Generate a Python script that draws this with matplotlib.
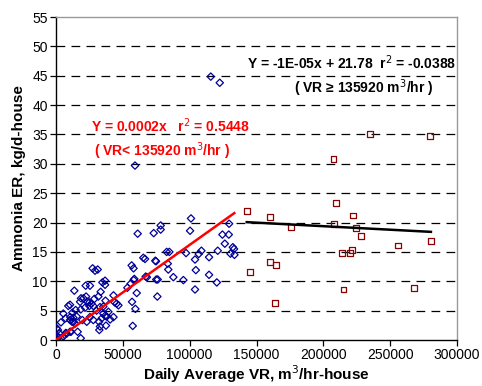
import matplotlib
matplotlib.use("Agg")
import matplotlib.pyplot as plt
import numpy as np

plt.rcParams['font.family'] = ['Liberation Sans', 'DejaVu Sans']

# Low ventilation-rate data (blue diamonds)
low_x = [0, 1000, 1500, 500, 1700, 500, 3700, 3700, 5500, 8000, 10500, 18500,
         5500, 7200, 10500, 12200, 14700, 13000, 15500, 19700, 23000, 25400, 27900,
         9200, 10500, 13700, 18000, 18700, 20500, 22500, 22200, 25400, 25000, 28700,
         31700, 33400, 34700, 36700, 18500, 21700, 24950, 27900, 30400, 32900, 35400,
         35400, 36700, 34200, 32200, 39200, 37900, 32400, 32900, 45400, 46700, 43900,
         27400, 31200, 29200, 12000, 14200, 10700, 13000, 16200, 11200, 7300, 2500,
         37000, 37400, 36700, 40500, 43000, 43000, 26500, 23500,
         56600, 58000, 65300, 66600, 74800, 68000, 75000, 58100, 60400, 56900, 59400,
         57400, 53400, 55900, 58600, 61100, 73100, 78300, 78300, 101000, 100300,
         129500, 124500, 129250, 126300, 121000, 132300, 133200, 130500, 133500,
         108800, 106800, 104000, 114500, 97300, 82800, 84800, 74300, 83600, 84000,
         104600, 114500, 120300, 95300, 87800, 76100, 67100, 104000, 75800,
         115800, 122500, 59100]
low_y = [0.3, 0.0, 1.7, 2.0, 0.5, 0.6, 3.0, 0.3, 0.6, 1.1, 1.4, 0.3,
         4.5, 3.7, 3.4, 4.65, 5.1, 3.1, 4.0, 3.4, 3.1, 3.9, 3.4,
         5.8, 6.0, 8.4, 6.5, 7.1, 7.1, 7.4, 9.25, 9.25, 6.4, 7.0,
         7.4, 8.2, 9.8, 9.4, 5.2, 5.5, 5.8, 5.8, 5.0, 5.6, 5.7,
         4.5, 4.1, 3.7, 3.1, 4.8, 4.0, 1.7, 2.3, 6.2, 5.9, 6.4,
         12.2, 12.0, 11.8, 3.1, 2.8, 3.9, 3.8, 1.4, 1.4, 1.2, 1.1,
         6.7, 2.45, 10.1, 3.5, 3.9, 7.6, 6.2, 6.5,
         12.7, 12.2, 14.0, 13.8, 13.4, 10.7, 10.3, 10.2, 8.0, 6.5, 5.3,
         2.4, 8.9, 9.6, 10.4, 18.1, 18.2, 19.5, 18.8, 20.7, 18.6,
         19.8, 17.95, 17.95, 16.4, 15.2, 15.8, 15.5, 14.7, 14.5,
         15.2, 14.65, 13.7, 14.1, 14.8, 15.0, 15.0, 13.5, 13.0, 12.0,
         11.9, 11.1, 9.8, 10.2, 10.7, 10.3, 10.8, 8.6, 7.4,
         44.85, 43.8, 29.7]

# High ventilation-rate data (red squares)
high_x = [142700, 145000, 160400, 160400, 164700, 163900, 175700, 207600, 209800,
          207900, 214100, 215100, 220100, 221600, 222300, 224600, 228300, 235000,
          255800, 267700, 279700, 280500]
high_y = [21.9, 11.6, 21.0, 13.3, 12.8, 6.25, 19.3, 30.8, 23.4,
          19.7, 14.8, 8.6, 14.8, 15.3, 21.2, 19.0, 17.7, 35.1,
          16.1, 8.9, 34.8, 16.8]

# Trend lines as drawn
low_slope = 0.000162
low_range = [0, 133400]
high_slope = -1.2e-5
high_intercept = 21.78
high_range = [142700, 280500]

xticks = [0, 50000, 100000, 150000, 200000, 250000, 300000]
yticks = list(range(0, 56, 5))

fig = plt.figure(figsize=(4.82, 3.86), dpi=100)
ax = fig.add_axes([56/482, 1-340/386, (457-56)/482, (340-17)/386])

for yv in yticks[1:-1]:
    ax.axhline(yv, color='black', lw=0.9, ls=(0, (7, 5)), zorder=1)

ax.scatter(low_x, low_y, marker='D', s=14, facecolors='none',
           edgecolors='#000099', linewidths=0.9, zorder=3)
ax.scatter(high_x, high_y, marker='s', s=18, facecolors='none',
           edgecolors='#8B0000', linewidths=0.9, zorder=3)

lx = np.array(low_range)
ax.plot(lx, low_slope*lx, color='#FF0000', lw=1.8, zorder=4)
hx = np.array(high_range)
ax.plot(hx, high_intercept + high_slope*hx, color='black', lw=1.8, zorder=4)

ax.set_xlim(0, 300000)
ax.set_ylim(0, 55)
ax.set_xticks(xticks)
ax.set_xticklabels([str(v) for v in xticks], fontsize=10)
ax.set_yticks(yticks)
ax.set_yticklabels([str(v) for v in yticks], fontsize=10)
ax.tick_params(direction='out', length=4, width=0.9, colors='black', pad=2)

ax.spines['left'].set_color('black')
ax.spines['bottom'].set_color('black')
ax.spines['top'].set_color('#999999')
ax.spines['right'].set_color('#999999')
for s in ax.spines.values():
    s.set_linewidth(1.0)

ax.set_xlabel('Daily Average VR, m$^3$/hr-house', fontsize=11, fontweight='bold', labelpad=1)
ax.set_ylabel('Ammonia ER, kg/d-house', fontsize=11, fontweight='bold', labelpad=4)

ax.text(85300, 36.5, 'Y = 0.0002x   r$^2$ = 0.5448', color='#FF0000',
        fontsize=10, fontweight='bold', ha='center', va='center')
ax.text(79100, 32.1, '( VR< 135920 m$^3$/hr )', color='#FF0000',
        fontsize=10, fontweight='bold', ha='center', va='center')
ax.text(299500, 47.3, 'Y = -1E-05x + 21.78  r$^2$ = -0.0388', color='black',
        fontsize=10, fontweight='bold', ha='right', va='center')
ax.text(230300, 42.8, '( VR \u2265 135920 m$^3$/hr )', color='black',
        fontsize=10, fontweight='bold', ha='center', va='center')

fig.savefig('out.png', dpi=100)
